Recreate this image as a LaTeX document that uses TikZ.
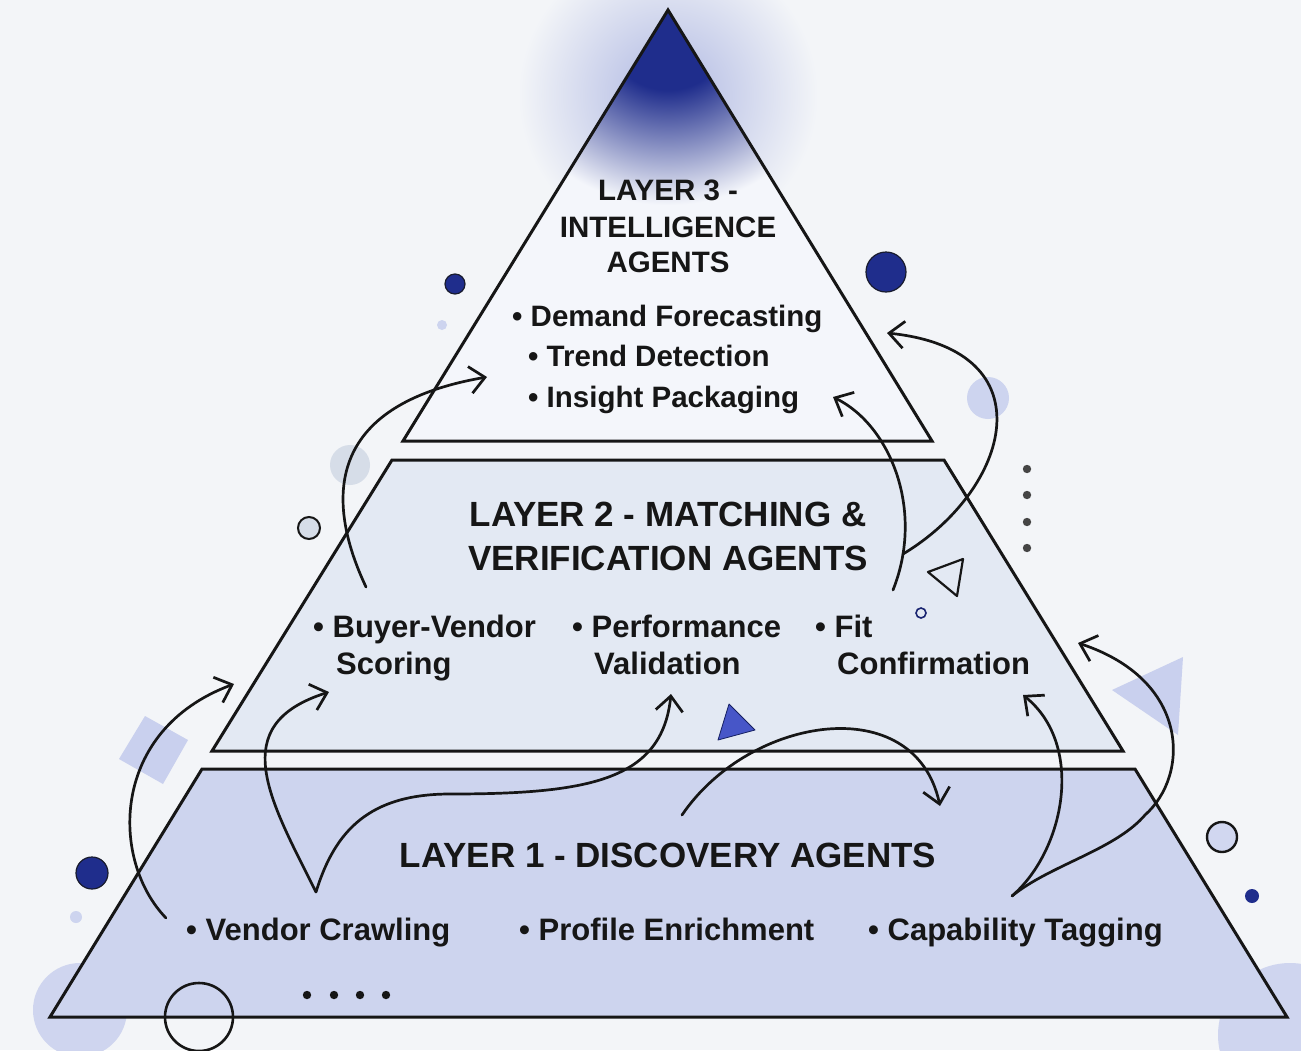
\documentclass[tikz,border=0pt]{standalone}
\usepackage{fontspec}
\setmainfont{Liberation Sans}
\usetikzlibrary{arrows.meta}
\definecolor{bg}{HTML}{F3F5F8}
\definecolor{trione}{HTML}{F4F6FB}
\definecolor{tritwo}{HTML}{E3E9F3}
\definecolor{trithree}{HTML}{CDD4EE}
\definecolor{navy}{HTML}{1F2D8C}
\definecolor{ink}{HTML}{161616}
\definecolor{lilac}{HTML}{C9D0EE}
\definecolor{haze}{HTML}{AEB7E2}
\definecolor{greyc}{HTML}{D6DDE8}
\definecolor{bluetri}{HTML}{4756C8}
\pgfdeclareradialshading{apexglow}{\pgfpoint{0bp}{0bp}}{color(0bp)=(navy); color(9bp)=(navy); color(25bp)=(trione); color(50bp)=(trione)}
\pgfdeclareradialshading{outglow}{\pgfpoint{0bp}{0bp}}{color(0bp)=(haze); color(25bp)=(bg); color(50bp)=(bg)}
\tikzset{
  tA/.style={font=\fontsize{29.5}{34}\selectfont\bfseries, text=ink, inner sep=0pt, anchor=base},
  bA/.style={font=\fontsize{29.5}{34}\selectfont\bfseries, text=ink, inner sep=0pt, anchor=base west},
  tB/.style={font=\fontsize{35}{40}\selectfont\bfseries, text=ink, inner sep=0pt, anchor=base},
  bB/.style={font=\fontsize{31}{36}\selectfont\bfseries, text=ink, inner sep=0pt, anchor=base west},
  conn/.style={draw=ink, line width=2.7pt, line cap=round, -{Straight Barb[length=15pt,width=27pt]}},
  layer/.style={draw=ink, line width=3pt, line join=miter},
  dotdark/.style={fill=navy, draw=ink!80!navy, line width=1.2pt}
}
\begin{document}
\begin{tikzpicture}[x=1pt,y=-1pt]
\useasboundingbox (0,0) rectangle (1301,1050);
\fill[bg] (0,0) rectangle (1301,1050);

% soft background shapes
\fill[lilac!85!bg] (80,1010) circle (47);
\fill[lilac!85!bg] (1290,1035) circle (72);
\fill[greyc] (350,465) circle (20);
\fill[lilac!90!bg] (988,398) circle (21);
\fill[lilac] (145,716) -- (188,740) -- (163,784) -- (119,759) -- cycle;
\fill[lilac] (1112,690) -- (1183,657) -- (1178,735) -- cycle;

% glow round the apex
\shade[shading=outglow] (668,95) circle (150);

% layer 1
\filldraw[layer, fill=trithree] (202,769) -- (1135,769) -- (1287,1017) -- (50,1017) -- cycle;
% layer 2
\filldraw[layer, fill=tritwo] (392,460) -- (944,460) -- (1123,751) -- (212,751) -- cycle;
% layer 3
\fill[trione] (668,10) -- (932,441) -- (403,441) -- cycle;
\begin{scope}
  \clip (668,10) -- (932,441) -- (403,441) -- cycle;
  \shade[shading=apexglow] (668,25) circle (180);
\end{scope}
\draw[layer] (668,10) -- (932,441) -- (403,441) -- cycle;

% texts layer 3
\node[tA] (l3a) at (668,200) {LAYER 3 -};
\node[tA] (l3b) at (668,237) {INTELLIGENCE};
\node[tA] (l3c) at (668,272) {AGENTS};
\node[bA] (l3d) at (512,326) {• Demand Forecasting};
\node[bA] (l3e) at (528,366) {• Trend Detection};
\node[bA] (l3f) at (528,407) {• Insight Packaging};

% texts layer 2
\node[tB] (l2a) at (668,526) {LAYER 2 - MATCHING \&};
\node[tB] (l2b) at (668,570) {VERIFICATION AGENTS};
\node[bB] (l2c) at (313,637) {• Buyer-Vendor};
\node[bB] (l2d) at (336,674) {Scoring};
\node[bB] (l2e) at (572,637) {• Performance};
\node[bB] (l2f) at (594,674) {Validation};
\node[bB] (l2g) at (815,637) {• Fit};
\node[bB] (l2h) at (837,674) {Confirmation};

% texts layer 1
\node[tB] (l1a) at (668,867) {LAYER 1 - DISCOVERY AGENTS};
\node[bB] (l1b) at (186,940) {• Vendor Crawling};
\node[bB] (l1c) at (519,940) {• Profile Enrichment};
\node[bB] (l1d) at (868,940) {• Capability Tagging};

% connector end points
\coordinate (a1s) at (166,918);
\coordinate (a1e) at (234,684);
\coordinate (v1) at (316,892);
\coordinate (a2e) at (329,692);
\coordinate (a3m) at (450,794);
\coordinate (a3e) at (671,694);
\coordinate (a4s) at (682,815);
\coordinate (a4e) at (940,806);
\coordinate (v2) at (1012,896);
\coordinate (a5e) at (1023,695);
\coordinate (a6m) at (1145,815);
\coordinate (a6e) at (1078,643);
\coordinate (a7s) at (893,590);
\coordinate (a7e) at (833,397);
\coordinate (b8) at (903,554);
\coordinate (a8e) at (887,333);
\coordinate (a9s) at (366,587);
\coordinate (a9e) at (487,377);

% connectors
\draw[conn] (a1s) .. controls (110,860) and (110,730) .. (a1e);
\draw[conn] (v1) .. controls (270,800) and (225,725) .. (a2e);
\draw[conn] (v1) .. controls (335,830) and (370,794) .. (a3m) .. controls (590,794) and (662,780) .. (a3e);
\draw[conn] (a4s) .. controls (750,715) and (915,690) .. (a4e);
\draw[conn] (v2) .. controls (1065,850) and (1085,745) .. (a5e);
\draw[conn] (v2) .. controls (1050,865) and (1115,850) .. (a6m) .. controls (1190,775) and (1190,680) .. (a6e);
\draw[conn] (a7s) .. controls (925,510) and (890,425) .. (a7e);
\draw[conn] (b8) .. controls (1010,490) and (1050,350) .. (a8e);
\draw[conn] (a9s) .. controls (325,500) and (325,405) .. (a9e);

% decorations
\filldraw[dotdark] (455,284) circle (10);
\filldraw[dotdark] (886,272) circle (20);
\filldraw[dotdark] (92,873) circle (16);
\fill[navy] (1252,896) circle (7);
\fill[lilac!90!bg] (442,325) circle (5);
\fill[lilac!90!bg] (76,917) circle (6);
\filldraw[fill=greyc, draw=ink, line width=2pt] (309,528) circle (11);
\draw[navy!80!black, line width=1.6pt] (921,613) circle (5);
\filldraw[fill=lilac!80!bg, draw=ink, line width=2.4pt] (1222,837) circle (15);
\draw[ink, line width=2.6pt] (199,1017) circle (34);
\foreach \yy in {469,495,522,548} \fill[ink!80] (1027,\yy) circle (4.2);
\foreach \xx in {307,334,360,386} \fill[ink] (\xx,995) circle (4.2);
\draw[ink, line width=2.2pt, line join=round] (928,572) -- (963,559) -- (957,596) -- cycle;
\filldraw[fill=bluetri, draw=navy!70!black, line width=0.8pt, line join=round] (729,704) -- (755,730) -- (718,740) -- cycle;
\end{tikzpicture}
\end{document}
